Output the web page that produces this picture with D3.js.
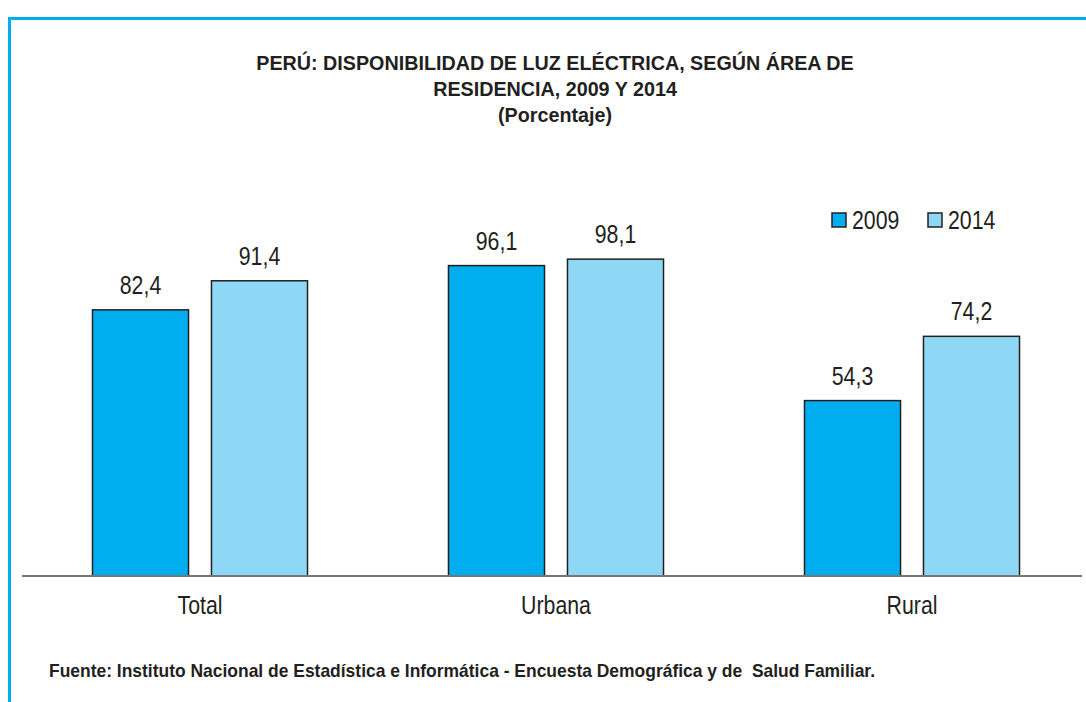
<!DOCTYPE html>
<html>
<head>
<meta charset="utf-8">
<script src="https://cdn.jsdelivr.net/npm/d3@7"></script>
<style>
  body { margin: 0; background: #fff; }
  svg { display: block; }
  text { font-family: "Liberation Sans", Arial, sans-serif; fill: #231f20; }
</style>
</head>
<body>
<div id="chart"></div>
<script>
// categories and series
var categories = ["Total", "Urbana", "Rural"];
var series = ["2009", "2014"];
var values2009 = [82.4, 96.1, 54.3];
var values2014 = [91.4, 98.1, 74.2];
var titleLines = ["PERÚ: DISPONIBILIDAD DE LUZ ELÉCTRICA, SEGÚN ÁREA DE", "RESIDENCIA, 2009 Y 2014", "(Porcentaje)"];
var source = "Fuente: Instituto Nacional de Estadística e Informática - Encuesta Demográfica y de  Salud Familiar.";

var colors = { "2009": "#00aeef", "2014": "#8fd8f5" };

var width = 1086, height = 702;

var svg = d3.select("#chart").append("svg")
    .attr("width", width)
    .attr("height", height);

// put a text at (x,y) and squeeze it horizontally (no narrow font installed)
function narrowAt(sel, fx, fy, k) {
    sel.attr("transform", function(d, i) {
        return "translate(" + fx(d, i) + "," + fy(d, i) + ") scale(" + k + ",1)";
    });
}

// frame lines (top and left)
svg.append("line").attr("x1", 9.5).attr("x2", width).attr("y1", 18.5).attr("y2", 18.5)
    .attr("stroke", "#00aeef").attr("stroke-width", 3);
svg.append("line").attr("x1", 9.5).attr("x2", 9.5).attr("y1", 17).attr("y2", height)
    .attr("stroke", "#00aeef").attr("stroke-width", 3);

// scales
var y = d3.scaleLinear().domain([0, 100]).range([576, 253]);

var x0 = d3.scaleBand().domain(categories)
    .range([22, 1090])
    .paddingInner(0.396)
    .paddingOuter(0.198);

var x1 = d3.scaleBand().domain(series)
    .range([0, x0.bandwidth()])
    .paddingInner(0.193);

// build rows from the arrays
var rows = categories.map(function(c, i) {
    return { cat: c, vals: [
        { s: "2009", v: values2009[i] },
        { s: "2014", v: values2014[i] }
    ]};
});

var groups = svg.selectAll("g.grp")
    .data(rows)
    .enter()
    .append("g")
    .attr("class", "grp")
    .attr("transform", function(d) { return "translate(" + x0(d.cat) + ",0)"; });

groups.selectAll("rect")
    .data(function(d) { return d.vals; })
    .enter()
    .append("rect")
    .attr("x", function(d) { return x1(d.s); })
    .attr("y", function(d) { return y(d.v); })
    .attr("width", x1.bandwidth())
    .attr("height", function(d) { return y(0) - y(d.v); })
    .attr("fill", function(d) { return colors[d.s]; })
    .attr("stroke", "#231f20")
    .attr("stroke-width", 1.5);

// value labels
groups.selectAll("text.val")
    .data(function(d) { return d.vals; })
    .enter()
    .append("text")
    .attr("class", "val")
    .attr("text-anchor", "middle")
    .attr("font-size", 26)
    .text(function(d) { return d.v.toFixed(1).replace(".", ","); })
    .call(narrowAt,
        function(d) { return x1(d.s) + x1.bandwidth() / 2; },
        function(d) { return y(d.v) - 16; }, 0.82);

// baseline
svg.append("line")
    .attr("x1", 22).attr("x2", 1082)
    .attr("y1", y(0)).attr("y2", y(0))
    .attr("stroke", "#777").attr("stroke-width", 2);

// category axis
var xAxis = svg.append("g")
    .attr("transform", "translate(0," + y(0) + ")")
    .call(d3.axisBottom(x0).tickSize(0).tickPadding(20));
xAxis.select(".domain").remove();
xAxis.selectAll("text")
    .attr("font-size", 26)
    .style("font-family", "'Liberation Sans', Arial, sans-serif")
    .attr("fill", "#231f20")
    .attr("transform", "scale(0.82,1)");

// title
svg.selectAll("text.title")
    .data(titleLines)
    .enter()
    .append("text")
    .attr("class", "title")
    .attr("text-anchor", "middle")
    .attr("font-size", 21)
    .attr("font-weight", "bold")
    .text(function(d) { return d; })
    .call(narrowAt,
        function() { return 555; },
        function(d, i) { return 70 + i * 26; }, 0.94);

// legend
var legend = svg.selectAll("g.leg")
    .data(series)
    .enter()
    .append("g")
    .attr("class", "leg")
    .attr("transform", function(d, i) { return "translate(" + (832 + i * 96) + ",213)"; });

legend.append("rect")
    .attr("width", 14).attr("height", 14)
    .attr("fill", function(d) { return colors[d]; })
    .attr("stroke", "#231f20").attr("stroke-width", 1.5);

legend.append("text")
    .attr("font-size", 26)
    .text(function(d) { return d; })
    .call(narrowAt, function() { return 20; }, function() { return 16; }, 0.82);

// source
svg.append("text")
    .attr("font-size", 18)
    .attr("font-weight", "bold")
    .attr("xml:space", "preserve")
    .style("white-space", "pre")
    .text(source)
    .call(narrowAt, function() { return 49; }, function() { return 677; }, 0.97);
</script>
</body>
</html>
